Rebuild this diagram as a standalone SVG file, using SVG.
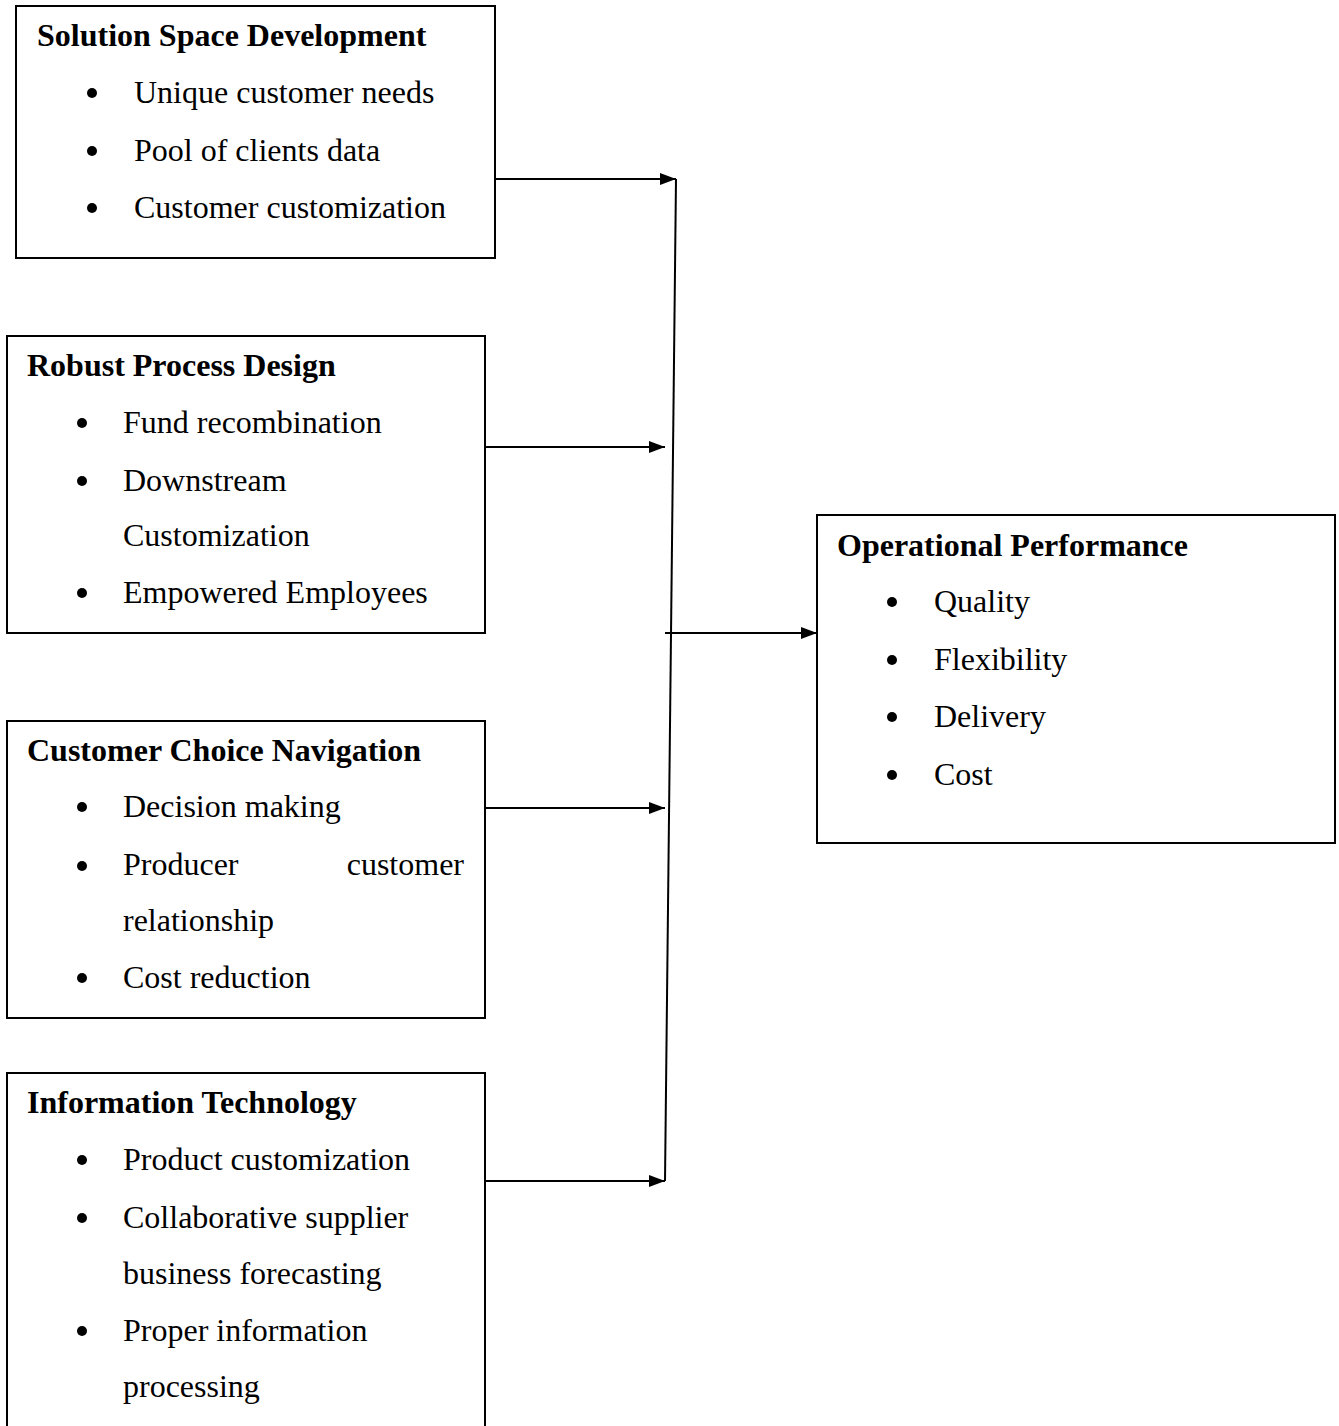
<svg xmlns="http://www.w3.org/2000/svg" width="1339" height="1426" viewBox="0 0 1339 1426">
<defs>
<style>
.box{fill:#fff;stroke:#000;stroke-width:2}
.t{font-family:"Liberation Serif","Times New Roman",serif;font-size:32px;font-weight:bold;fill:#000}
.i{font-family:"Liberation Serif","Times New Roman",serif;font-size:32px;fill:#000}
.b{fill:#000}
.c{stroke:#000;stroke-width:2;fill:none}
</style>
<marker id="ah" viewBox="0 0 16 12" refX="16" refY="6" markerWidth="16" markerHeight="12" markerUnits="userSpaceOnUse" orient="auto">
<path d="M0,0 L16,6 L0,12 Z" fill="#000"/>
</marker>
</defs>
<rect width="1339" height="1426" fill="#fff"/>
<g id="n1">
<rect class="box" x="16" y="6" width="479" height="252"/>
<text class="t" x="37" y="46">Solution Space Development</text>
<circle class="b" cx="92" cy="93" r="5"/><text class="i" x="134" y="103">Unique customer needs</text>
<circle class="b" cx="92" cy="151" r="5"/><text class="i" x="134" y="161">Pool of clients data</text>
<circle class="b" cx="92" cy="208" r="5"/><text class="i" x="134" y="218">Customer customization</text>
</g>
<g id="n2">
<rect class="box" x="7" y="336" width="478" height="297"/>
<text class="t" x="27" y="376">Robust Process Design</text>
<circle class="b" cx="82" cy="423" r="5"/><text class="i" x="123" y="433">Fund recombination</text>
<circle class="b" cx="82" cy="481" r="5"/><text class="i" x="123" y="491">Downstream</text>
<text class="i" x="123" y="546">Customization</text>
<circle class="b" cx="82" cy="593" r="5"/><text class="i" x="123" y="603">Empowered Employees</text>
</g>
<g id="n3">
<rect class="box" x="7" y="721" width="478" height="297"/>
<text class="t" x="27" y="761">Customer Choice Navigation</text>
<circle class="b" cx="82" cy="807" r="5"/><text class="i" x="123" y="817">Decision making</text>
<circle class="b" cx="82" cy="866" r="5"/><text class="i" x="123" y="875">Producer</text>
<text class="i" x="464" y="875" text-anchor="end">customer</text>
<text class="i" x="123" y="931">relationship</text>
<circle class="b" cx="82" cy="978" r="5"/><text class="i" x="123" y="988">Cost reduction</text>
</g>
<g id="n4">
<rect class="box" x="7" y="1073" width="478" height="370"/>
<text class="t" x="27" y="1113">Information Technology</text>
<circle class="b" cx="82" cy="1160" r="5"/><text class="i" x="123" y="1170">Product customization</text>
<circle class="b" cx="82" cy="1218" r="5"/><text class="i" x="123" y="1228">Collaborative supplier</text>
<text class="i" x="123" y="1284">business forecasting</text>
<circle class="b" cx="82" cy="1331" r="5"/><text class="i" x="123" y="1341">Proper information</text>
<text class="i" x="123" y="1397">processing</text>
</g>
<g id="n5">
<rect class="box" x="817" y="515" width="518" height="328"/>
<text class="t" x="837" y="556">Operational Performance</text>
<circle class="b" cx="892" cy="602" r="5"/><text class="i" x="934" y="612">Quality</text>
<circle class="b" cx="892" cy="660" r="5"/><text class="i" x="934" y="670">Flexibility</text>
<circle class="b" cx="892" cy="717" r="5"/><text class="i" x="934" y="727">Delivery</text>
<circle class="b" cx="892" cy="775" r="5"/><text class="i" x="934" y="785">Cost</text>
</g>
<g id="connectors">
<line class="c" x1="495" y1="179" x2="676" y2="179" marker-end="url(#ah)"/>
<line class="c" x1="676" y1="179" x2="665" y2="1181"/>
<line class="c" x1="485" y1="447" x2="665" y2="447" marker-end="url(#ah)"/>
<line class="c" x1="485" y1="808" x2="665" y2="808" marker-end="url(#ah)"/>
<line class="c" x1="485" y1="1181" x2="665" y2="1181" marker-end="url(#ah)"/>
<line class="c" x1="665" y1="633" x2="817" y2="633" marker-end="url(#ah)"/>
</g>
</svg>
